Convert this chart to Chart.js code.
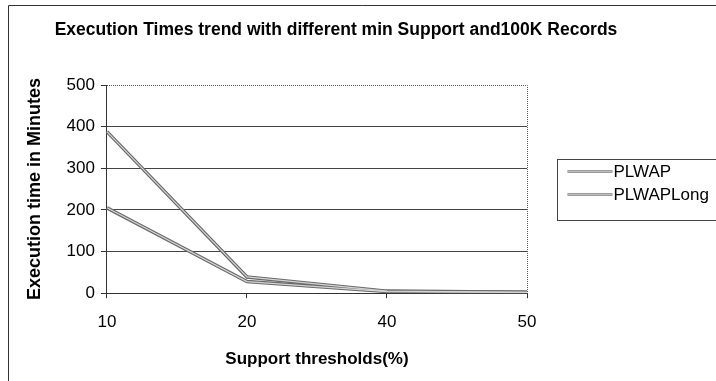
<!DOCTYPE html>
<html>
<head>
<meta charset="utf-8">
<script src="https://cdn.jsdelivr.net/npm/chart.js@4.4.0/dist/chart.umd.min.js"></script>
<style>
  html, body { margin: 0; padding: 0; background: #fff; }
  #wrap { width: 716px; height: 381px; position: relative; }
</style>
</head>
<body>
<div id="wrap"><canvas id="chartExec"></canvas></div>
<script>
// values
const supportLabels = ['10', '20', '40', '50'];
const plwapTimes = [388, 39, 5, 2];
const plwapLongTimes = [205, 28, 4, 2];
const yTicks = [0, 100, 200, 300, 400, 500];

const FONT = '"Liberation Sans", Arial, sans-serif';

// outer frame, dotted top/right plot border, boxed legend, light core on lines
const framePlugin = {
  id: 'frame',
  beforeDraw(chart) {
    const c = chart.ctx;
    c.save();
    c.fillStyle = '#fff';
    c.fillRect(0, 0, chart.width, chart.height);
    c.strokeStyle = '#333';
    c.lineWidth = 1;
    c.beginPath();
    c.moveTo(8.5, 381);
    c.lineTo(8.5, 5.5);
    c.lineTo(716, 5.5);
    c.stroke();
    c.restore();
  },
  afterDatasetsDraw(chart) {
    const c = chart.ctx;
    c.save();
    c.strokeStyle = '#d4d4d4';
    c.lineWidth = 1.2;
    chart.data.datasets.forEach((ds, i) => {
      const pts = chart.getDatasetMeta(i).data;
      c.beginPath();
      pts.forEach((p, j) => { if (j === 0) c.moveTo(p.x, p.y); else c.lineTo(p.x, p.y); });
      c.stroke();
    });
    c.restore();
  },
  afterDraw(chart) {
    const c = chart.ctx;
    const a = chart.chartArea;
    c.save();
    c.strokeStyle = '#555';
    c.lineWidth = 1;
    c.setLineDash([1, 1]);
    c.beginPath();
    c.moveTo(a.left, a.top + 0.5);
    c.lineTo(a.right + 0.5, a.top + 0.5);
    c.lineTo(a.right + 0.5, a.bottom);
    c.stroke();
    c.setLineDash([]);

    // legend
    const bx = Math.round(a.right) + 30.5;
    const by = 159.5;
    c.strokeStyle = '#444';
    c.strokeRect(bx, by, 200, 61);
    c.font = '17px ' + FONT;
    c.textBaseline = 'middle';
    c.textAlign = 'left';
    chart.data.datasets.forEach((ds, i) => {
      const y = by + 12 + i * 23;
      c.strokeStyle = '#7a7a7a';
      c.lineWidth = 2.5;
      c.beginPath();
      c.moveTo(bx + 10, y);
      c.lineTo(bx + 55, y);
      c.stroke();
      c.strokeStyle = '#cfcfcf';
      c.lineWidth = 0.8;
      c.beginPath();
      c.moveTo(bx + 10, y);
      c.lineTo(bx + 55, y);
      c.stroke();
      c.fillStyle = '#000';
      c.fillText(ds.label, bx + 56, y + 1);
    });
    c.restore();
  }
};

new Chart(document.getElementById('chartExec'), {
  type: 'line',
  data: {
    labels: supportLabels,
    datasets: [
      {
        label: 'PLWAP',
        data: plwapTimes,
        borderColor: '#6a6a6a',
        borderWidth: 3.5,
        pointRadius: 0,
        tension: 0,
        fill: false
      },
      {
        label: 'PLWAPLong',
        data: plwapLongTimes,
        borderColor: '#6a6a6a',
        borderWidth: 3.5,
        pointRadius: 0,
        tension: 0,
        fill: false
      }
    ]
  },
  options: {
    responsive: true,
    maintainAspectRatio: false,
    animation: false,
    layout: { padding: { left: 24, right: 68, top: 13, bottom: 11 } },
    plugins: {
      title: {
        display: true,
        text: 'Execution Times trend with different min Support and100K Records',
        color: '#000',
        font: { family: FONT, size: 17.5, weight: 'bold' },
        padding: { top: 7, bottom: 44 }
      },
      legend: { display: false },
      tooltip: { enabled: false }
    },
    scales: {
      x: {
        offset: false,
        grid: { drawOnChartArea: false, drawTicks: true, tickLength: 5, tickColor: '#333' },
        border: { color: '#333', width: 1 },
        ticks: { color: '#000', font: { family: FONT, size: 17 }, padding: 14 },
        title: {
          display: true,
          text: 'Support thresholds(%)',
          color: '#000',
          font: { family: FONT, size: 17, weight: 'bold' },
          padding: { top: 3, bottom: 0 }
        }
      },
      y: {
        min: 0,
        max: 500,
        afterBuildTicks(scale) { scale.ticks = yTicks.map(v => ({ value: v })); },
        grid: {
          color: ctx => (ctx.tick && ctx.tick.value === 500) ? 'rgba(0,0,0,0)' : '#444',
          tickColor: '#333',
          tickLength: 6
        },
        border: { color: '#333', width: 1 },
        ticks: { color: '#000', font: { family: FONT, size: 17 }, padding: 6 },
        title: {
          display: true,
          text: 'Execution time in Minutes',
          color: '#000',
          font: { family: FONT, size: 18, weight: 'bold' },
          padding: { top: 0, bottom: 15 }
        }
      },
      // empty right-hand axis, only reserves the room the legend sits in
      legendRoom: {
        type: 'linear',
        position: 'right',
        display: true,
        grid: { display: false },
        border: { display: false },
        ticks: { display: false },
        afterFit(scale) { scale.width = 121; }
      }
    }
  },
  plugins: [framePlugin]
});
</script>
</body>
</html>
